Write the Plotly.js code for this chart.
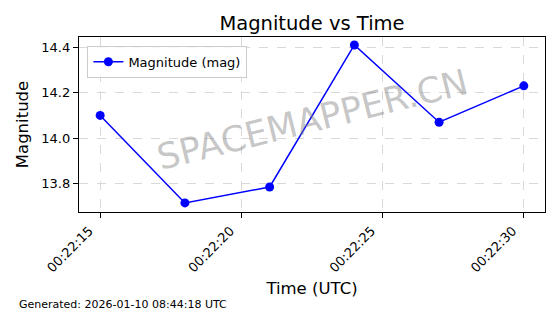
<!DOCTYPE html>
<html><head><meta charset="utf-8">
<script src="https://cdn.plot.ly/plotly-3.0.1.min.js"></script>
<style>html,body{margin:0;padding:0;background:#fff}#c{width:560px;height:314px}</style>
</head><body><div id="c"></div>
<script>
const times = ['2026-01-10 00:22:15','2026-01-10 00:22:18','2026-01-10 00:22:21','2026-01-10 00:22:24','2026-01-10 00:22:27','2026-01-10 00:22:30'];
const magnitudes = [14.10, 13.715, 13.785, 14.41, 14.07, 14.23];
const seriesName = 'Magnitude (mag)';
const titleText = 'Magnitude vs Time';
const xTitle = 'Time (UTC)';
const yTitle = 'Magnitude';
const watermark = 'SPACEMAPPER.CN';
const footer = 'Generated: 2026-01-10 08:44:18 UTC';

const F = 'DejaVu Sans, sans-serif';
const trace = {
  x: times, y: magnitudes, name: seriesName, type: 'scatter', mode: 'lines+markers',
  line: {color: '#0000ff', width: 1.5},
  marker: {color: '#0000ff', size: 9}
};
const layout = {
  width: 560, height: 314,
  margin: {l: 79, r: 15, t: 37, b: 102},
  paper_bgcolor: '#fff', plot_bgcolor: '#fff',
  font: {family: F, color: '#000', size: 13},
  title: {text: titleText, font: {size: 19.5, family: F}, xref: 'paper', x: 0.5, xanchor: 'center', y: 0.925, yanchor: 'middle'},
  showlegend: true,
  legend: {x: 0.018, y: 0.95, xanchor: 'left', yanchor: 'top', bgcolor: 'rgba(255,255,255,0.8)', bordercolor: '#cccccc', borderwidth: 1, font: {size: 13, family: F}},
  xaxis: {
    type: 'date', range: ['2026-01-10 00:22:14.25', '2026-01-10 00:22:30.75'],
    tick0: '2026-01-10 00:22:15', dtick: 5000, tickformat: '%H:%M:%S', tickangle: -45,
    ticklabelshift: -11,
    ticks: 'outside', ticklen: 5, tickcolor: '#000', showline: true, linecolor: '#000', linewidth: 1.2, mirror: true,
    showgrid: true, gridcolor: '#cfcfcf', griddash: 'dash', gridwidth: 0.8, zeroline: false,
    title: {text: xTitle, font: {size: 16.5, family: F}, standoff: 8},
    tickfont: {size: 13, family: F}
  },
  yaxis: {
    range: [13.675, 14.445], dtick: 0.2, tick0: 13.8, tickformat: '.1f',
    ticks: 'outside', ticklen: 5, tickcolor: '#000', showline: true, linecolor: '#000', linewidth: 1.2, mirror: true,
    showgrid: true, gridcolor: '#cfcfcf', griddash: 'dash', gridwidth: 0.8, zeroline: false,
    title: {text: yTitle, font: {size: 16.5, family: F}, standoff: 8},
    tickfont: {size: 13, family: F}
  },
  annotations: [
    {text: watermark, xref: 'paper', yref: 'paper', x: 0.5, y: 0.53, showarrow: false, textangle: -14,
     font: {size: 35.5, family: F, color: 'rgba(128,128,128,0.45)'}},
    {text: footer, xref: 'paper', yref: 'paper', x: -79/466 + 17/466, y: -92/175, xanchor: 'left', yanchor: 'middle', showarrow: false,
     font: {size: 11, family: F, color: '#000'}}
  ]
};
Plotly.newPlot('c', [trace], layout, {displayModeBar: false, staticPlot: true});
</script></body></html>
